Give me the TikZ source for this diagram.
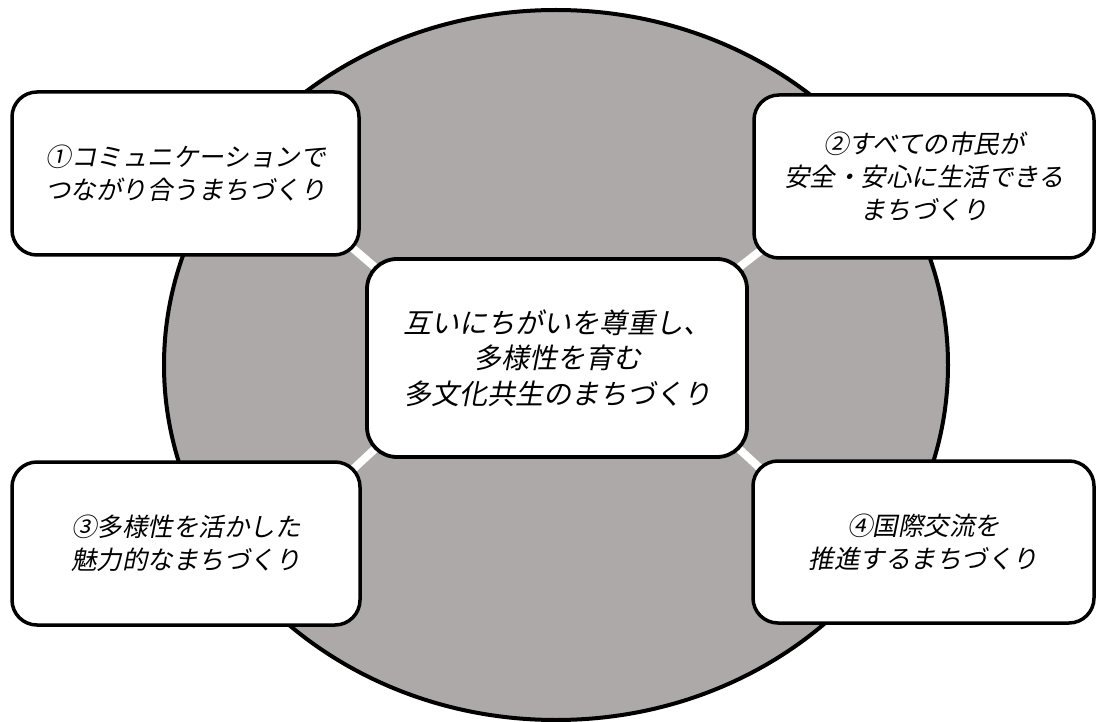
\documentclass[tikz,border=0pt]{standalone}
\usepackage{fontspec}
\newfontfamily\jpfont[FakeSlant=0.2]{Noto Sans CJK JP}
\usetikzlibrary{shapes.geometric,calc,backgrounds}
\definecolor{ringgray}{RGB}{173,169,168}
\tikzset{
  outerbox/.style={draw=black, line width=3.5pt, fill=white, rounded corners=25pt,
    inner sep=0pt, align=center, font=\jpfont\fontsize{25.5}{33}\selectfont},
  centerbox/.style={draw=black, line width=3.8pt, fill=white, rounded corners=30pt,
    inner sep=0pt, align=center, font=\jpfont\fontsize{28}{35.5}\selectfont},
  conn/.style={draw=white, line width=8pt, line cap=butt},
  ringstyle/.style={ellipse, draw=black, line width=4pt, fill=ringgray, inner sep=0pt}
}
\begin{document}
\begin{tikzpicture}[x=1pt,y=-1pt]
\useasboundingbox (0,0) rectangle (1096,722);
\node[outerbox, minimum width=347pt, minimum height=163pt] (b1) at (185.5,173.5)
  {①コミュニケーションで\\つながり合うまちづくり};
\node[outerbox, minimum width=340pt, minimum height=163pt] (b2) at (924,176.5)
  {②すべての市民が\\安全・安心に生活できる\\まちづくり};
\node[outerbox, minimum width=348pt, minimum height=163pt] (b3) at (186,543.5)
  {③多様性を活かした\\魅力的なまちづくり};
\node[outerbox, minimum width=341pt, minimum height=162pt] (b4) at (923.5,542)
  {④国際交流を\\推進するまちづくり};
\node[centerbox, minimum width=380pt, minimum height=198pt] (c) at (557,358)
  {互いにちがいを尊重し、\\多様性を育む\\多文化共生のまちづくり};
\begin{pgfonlayer}{background}
\node[ringstyle, minimum width=784pt, minimum height=710pt] (ring) at (556,365) {};
\draw[conn] ($(b1.south east)+(-12,-12)$) -- ($(c.north west)+(12,12)$);
\draw[conn] ($(b2.south west)+(12,-12)$) -- ($(c.north east)+(-12,12)$);
\draw[conn] ($(b3.north east)+(-12,12)$) -- ($(c.south west)+(12,-12)$);
\draw[conn] ($(b4.north west)+(12,12)$) -- ($(c.south east)+(-12,-12)$);
\end{pgfonlayer}
\end{tikzpicture}
\end{document}
